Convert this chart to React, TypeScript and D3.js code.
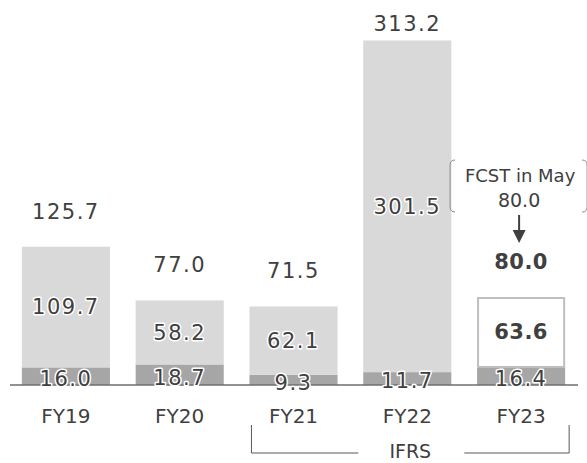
import React from "react";
import * as d3 from "d3";

const categories = ["FY19", "FY20", "FY21", "FY22", "FY23"];
const bottomValues = [16.0, 18.7, 9.3, 11.7, 16.4];
const topValues = [109.7, 58.2, 62.1, 301.5, 63.6];
const totalValues = [125.7, 77.0, 71.5, 313.2, 80.0];
const forecastFlags = [false, false, false, false, true];
const ifrsCategories = ["FY21", "FY22", "FY23"];
const ifrsLabel = "IFRS";
const fcstTitle = "FCST in May";
const fcstValue = 80.0;

const W = 587;
const H = 463;
const baseY = 385;
const numFont = "'DejaVu Sans', Verdana, sans-serif";
const textColor = "#404040";

export default function App() {
  const x = d3.scaleBand<string>().domain(categories).range([9, 578]).paddingInner(0.226).paddingOuter(0.113);
  const y = d3.scaleLinear().domain([0, 350]).range([baseY, 0]);
  const bw = x.bandwidth();
  const fmt = d3.format(".1f");

  const fcstIdx = forecastFlags.indexOf(true);
  const fcstCx = (x(categories[fcstIdx]) as number) + bw / 2 - 2;

  const ifrsX0 = (x(ifrsCategories[0]) as number) + 2;
  const ifrsX1 = (x(ifrsCategories[ifrsCategories.length - 1]) as number) + bw + 4;
  const ifrsMid = (ifrsX0 + ifrsX1) / 2;

  return (
    <svg width={W} height={H} style={{ position: "absolute", left: 0, top: 0, background: "#fff" }}>
      {categories.map((c, i) => {
        const x0 = x(c) as number;
        const yb = y(bottomValues[i]);
        const yt = y(bottomValues[i] + topValues[i]);
        const isF = forecastFlags[i];
        return (
          <g key={c}>
            <rect x={x0} y={yb} width={bw} height={baseY - yb} fill="#a6a6a6" />
            {isF ? (
              <rect x={x0 + 1} y={yt + 1} width={bw - 2} height={yb - yt - 1} fill="#fff" stroke="#bfbfbf" strokeWidth={2} />
            ) : (
              <rect x={x0} y={yt} width={bw} height={yb - yt} fill="#d9d9d9" />
            )}
          </g>
        );
      })}
      <line x1={10} x2={578} y1={baseY} y2={baseY} stroke="#6e6e6e" strokeWidth={1.5} />
      {categories.map((c, i) => {
        const cx = (x(c) as number) + bw / 2;
        const yb = y(bottomValues[i]);
        const yt = y(bottomValues[i] + topValues[i]);
        const isF = forecastFlags[i];
        const totY = Math.max(y(totalValues[i]) - 28, 31);
        return (
          <g key={"l" + c} fontFamily={numFont} textAnchor="middle" fill={textColor}>
            <text
              x={cx}
              y={(yb + baseY) / 2 + 2.5}
              dy="0.35em"
              fontSize={21}
              letterSpacing={1.5}
              stroke="#fff"
              strokeWidth={3}
              paintOrder="stroke"
              strokeLinejoin="round"
            >
              {fmt(bottomValues[i])}
            </text>
            <text
              x={cx}
              y={(yt + yb) / 2}
              dy="0.35em"
              fontSize={21}
              letterSpacing={isF ? 0.5 : 1.5}
              fontWeight={isF ? "bold" : "normal"}
              stroke={isF ? "none" : "#fff"}
              strokeWidth={3}
              paintOrder="stroke"
              strokeLinejoin="round"
            >
              {fmt(topValues[i])}
            </text>
            <text
              x={cx}
              y={totY}
              fontSize={21}
              letterSpacing={isF ? 0.5 : 1.5}
              fontWeight={isF ? "bold" : "normal"}
            >
              {fmt(totalValues[i])}
            </text>
            <text x={cx} y={423} fontSize={20} fontFamily={numFont}>
              {c}
            </text>
          </g>
        );
      })}
      {/* forecast annotation */}
      <g fill={textColor} fontFamily={numFont} textAnchor="middle">
        <text x={fcstCx + 1} y={182} fontSize={18}>{fcstTitle}</text>
        <text x={fcstCx} y={207} fontSize={19}>{fmt(fcstValue)}</text>
        <path
          d={`M${fcstCx - 64},160 q-5,0 -5,5 v42 q0,5 5,5`}
          fill="none"
          stroke="#8c8c8c"
          strokeWidth={1}
        />
        <path
          d={`M${fcstCx + 63},160 q5,0 5,5 v42 q0,5 -5,5`}
          fill="none"
          stroke="#8c8c8c"
          strokeWidth={1}
        />
        <line x1={fcstCx} x2={fcstCx} y1={215} y2={232} stroke="#404040" strokeWidth={2} />
        <path d={`M${fcstCx - 6.5},230 L${fcstCx + 6.5},230 L${fcstCx},243 Z`} fill="#404040" />
      </g>
      {/* IFRS bracket */}
      <g stroke="#595959" strokeWidth={1} fill="none">
        <path d={`M${ifrsX0},425 V453 H${ifrsMid - 52}`} />
        <path d={`M${ifrsMid + 54},453 H${ifrsX1} V425`} />
      </g>
      <text x={ifrsMid} y={458} textAnchor="middle" fontSize={19} fontFamily={numFont} fill={textColor}>
        {ifrsLabel}
      </text>
    </svg>
  );
}
